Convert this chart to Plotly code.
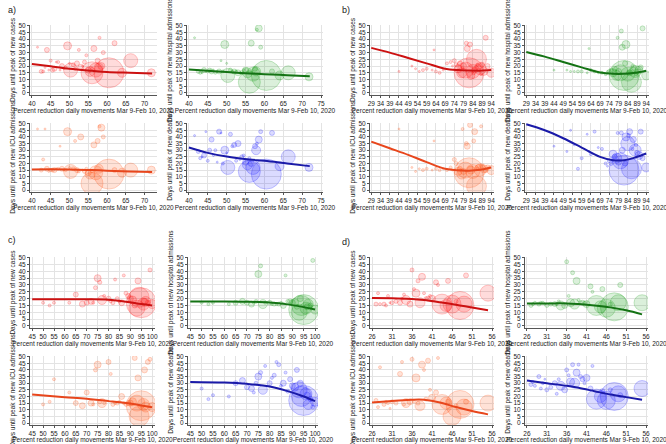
import plotly.graph_objects as go

# ---------------- data ----------------
metrics = ["cases", "hospital admissions", "ICU admissions", "deaths"]
y_titles = ["Days until peak of new cases", "Days until peak of new hospital admissions",
            "Days until peak of new ICU admissions", "Days until peak of new deaths"]
x_title = "Percent reduction daily movements Mar 9-Feb 10, 2020"
panel_labels = ["a)", "b)", "c)", "d)"]
y_ticks = [0, 5, 10, 15, 20, 25, 30, 35, 40, 45, 50]

# panel a
a_x = [60.5, 56.0, 57.0, 50.3, 66.3, 64.0, 71.8, 55.5, 57.8, 58.5, 53.0, 46.0, 48.0, 52.0, 54.0, 44.0,
       42.5, 43.0, 45.0, 47.0, 49.0, 51.0, 55.0, 56.5, 57.5, 59.0, 62.0, 41.5, 44.5, 46.5, 48.5, 50.0,
       52.5, 53.5, 54.5, 58.0, 56.0, 45.5, 49.5, 51.5, 43.5, 47.5]
a_pop = [30, 22, 14, 14, 14, 9, 8, 10, 9, 7, 6, 5, 5, 5, 4, 5, 4, 3, 3, 3, 3, 4, 6, 6, 5, 4, 5, 2, 2, 2, 2, 2,
         3, 2, 3, 3, 3, 4, 8, 3, 2, 2]
a_cases = [15, 15, 17, 17, 24, 15, 15, 16, 19, 20, 19, 18, 20, 22, 23, 32, 16, 16, 24, 23, 19, 21, 17, 33,
           24, 30, 37, 34, 17, 23, 18, 22, 32, 20, 28, 41, 18, 17, 35, 18, 19, 17]
a_hosp = [13, 8, 14, 13, 15, 13, 12, 15, 16, 48, 15, 16, 16, 16, 15, 17, 16, 15, 16, 15, 16, 17, 17, 37,
          18, 34, 16, 41, 16, 17, 24, 22, 16, 15, 17, 47, 16, 17, 36, 16, 15, 16]
a_icu = [12, 5, 13, 14, 15, 13, 15, 12, 16, 47, 40, 15, 16, 15, 14, 16, 15, 23, 15, 16, 15, 16, 13, 34,
         37, 40, 15, 46, 14, 16, 15, 17, 14, 15, 16, 48, 14, 15, 44, 37, 46, 33]
a_deaths = [12, 14, 17, 17, 25, 18, 17, 19, 30, 38, 35, 38, 44, 34, 25, 26, 29, 24, 22, 30, 20, 42, 21, 20,
            33, 44, 43, 41, 44, 26, 43, 28, 22, 23, 26, 35, 24, 30, 30, 33, 25, 21]
a_fit_x = [40, 45, 50, 56, 60, 66, 72]
a_fit = [[21.5, 19.8, 18.0, 16.5, 15.6, 15.0, 14.5],
         [17.5, 16.5, 15.5, 14.5, 14.0, 13.2, 12.5],
         [15.5, 15.6, 15.5, 15.0, 14.6, 14.0, 13.5],
         [32.0, 28.0, 25.2, 23.0, 22.0, 20.0, 18.0]]

# panel b
b_x = [82, 86, 80, 84, 88, 78, 94, 76, 90, 83, 79, 81, 85, 87, 77, 89, 91, 75, 74, 72, 70, 66, 64, 62,
       59, 57, 55, 53, 51, 44, 80.5, 84.5, 92, 78.5, 86.5, 88.5, 73, 68, 63, 82.5]
b_pop = [30, 20, 16, 14, 12, 10, 9, 8, 8, 8, 6, 6, 6, 6, 5, 5, 5, 4, 4, 3, 3, 3, 3, 2, 3, 3, 2, 2, 2, 2,
         4, 4, 5, 3, 3, 3, 2, 2, 2, 5]
b_cases = [15, 25, 17, 16, 18, 15, 15, 18, 16, 13, 20, 33, 17, 19, 22, 21, 41, 21, 24, 23, 22, 15, 16, 17,
           18, 17, 16, 18, 20, 16, 37, 15, 20, 19, 21, 14, 20, 17, 32, 36]
b_hosp = [13, 8, 15, 14, 16, 13, 13, 15, 17, 36, 16, 34, 15, 17, 18, 16, 19, 17, 16, 14, 15, 16, 17, 15,
          16, 16, 16, 16, 17, 17, 46, 15, 48, 41, 20, 14, 16, 15, 33, 22]
b_icu = [13, 3, 15, 14, 15, 12, 15, 14, 16, 15, 14, 33, 44, 17, 16, 18, 15, 20, 23, 17, 15, 15, 16, 15,
         16, 15, 16, 14, 17, 46, 35, 37, 17, 46, 16, 48, 15, 16, 37, 49]
b_deaths = [15, 16, 22, 35, 30, 24, 17, 27, 26, 40, 21, 30, 44, 38, 25, 28, 44, 20, 22, 20, 31, 44, 27, 42,
            24, 16, 34, 45, 29, 33, 43, 41, 24, 43, 31, 34, 18, 32, 29, 20]
b_fit_x = [29, 39, 49, 59, 69, 76, 82, 88, 94]
b_fit = [[33.5, 30.0, 26.0, 22.0, 18.0, 17.0, 16.7, 16.6, 17.0],
         [30.5, 27.0, 23.0, 19.0, 15.2, 14.2, 14.2, 15.0, 16.5],
         [36.5, 31.5, 26.5, 21.0, 16.0, 14.8, 14.6, 15.3, 17.0],
         [49.5, 45.0, 39.0, 32.0, 25.0, 22.5, 22.5, 24.5, 27.5]]

# panel c
c_x = [95, 94, 93, 96, 97, 100, 91, 77, 75, 86, 90, 92, 98, 89, 82, 80, 84, 70, 72, 68, 65, 62, 55, 53, 50,
       74, 76, 78, 83, 85, 88, 99, 87, 81, 73, 93.5, 96.5]
c_pop = [30, 20, 16, 12, 10, 9, 8, 9, 7, 6, 6, 5, 5, 5, 4, 5, 4, 5, 6, 6, 5, 3, 3, 3, 3, 4, 4, 3, 3, 3, 4,
         4, 3, 3, 3, 6, 6]
c_cases = [17, 21, 13, 16, 18, 16, 19, 19, 35, 17, 20, 15, 17, 22, 17, 20, 20, 17, 18, 16, 23, 17, 17, 15,
           17, 28, 32, 22, 34, 18, 24, 41, 37, 18, 17, 33, 18]
c_hosp = [12, 15, 10, 13, 16, 12, 17, 16, 38, 15, 17, 14, 15, 18, 16, 17, 16, 17, 16, 18, 17, 16, 17, 16,
          17, 18, 44, 17, 16, 17, 18, 48, 37, 16, 17, 20, 14]
c_icu = [13, 5, 15, 14, 12, 12, 16, 15, 44, 20, 15, 49, 46, 15, 14, 46, 15, 23, 15, 13, 15, 23, 33, 16, 14,
         40, 16, 15, 15, 16, 14, 48, 15, 37, 14, 34, 40]
c_deaths = [17, 20, 25, 22, 14, 16, 27, 25, 35, 30, 28, 40, 18, 33, 36, 30, 44, 27, 26, 32, 30, 20, 21, 18,
            26, 30, 38, 43, 46, 28, 24, 12, 38, 34, 23, 30, 21]
c_fit_x = [45, 60, 70, 80, 88, 95, 100]
c_fit = [[19.5, 19.5, 19.5, 19.2, 17.8, 16.0, 15.0],
         [18.0, 18.0, 17.8, 17.2, 15.8, 13.8, 12.0],
         [21.5, 19.5, 18.2, 16.5, 15.0, 13.2, 11.8],
         [31.0, 30.5, 29.5, 27.5, 24.0, 20.0, 16.5]]

# panel d
d_x = [48, 43.5, 46, 49, 55, 44.5, 38, 34.5, 37, 41, 38.5, 35.5, 40, 33, 42, 45, 36, 37.5, 32, 31, 29, 28,
       27, 30, 33.5, 39, 49.5, 36.5, 42.5, 27.5, 29.5, 34, 40.5, 47, 39.5, 30.5]
d_pop = [28, 20, 18, 16, 16, 12, 10, 9, 8, 7, 7, 6, 5, 5, 5, 5, 4, 4, 4, 4, 4, 3, 4, 3, 3, 3, 5, 3, 3, 3, 3,
         3, 3, 4, 4, 2]
d_cases = [15, 16, 16, 16, 24, 15, 17, 19, 24, 20, 36, 16, 20, 17, 32, 33, 41, 33, 18, 17, 16, 16, 16, 22,
           20, 24, 37, 27, 30, 24, 15, 23, 22, 18, 20, 17]
d_hosp = [14, 15, 13, 17, 17, 14, 16, 15, 17, 16, 33, 15, 17, 16, 29, 27, 47, 39, 16, 15, 16, 17, 15, 17,
          16, 19, 30, 22, 25, 16, 17, 18, 17, 16, 17, 16]
d_icu = [14, 14, 5, 12, 15, 15, 13, 15, 34, 19, 44, 16, 47, 37, 23, 16, 48, 15, 15, 16, 14, 42, 17, 15, 46,
         40, 16, 16, 49, 12, 16, 14, 25, 13, 18, 11]
d_deaths = [20, 18, 17, 22, 26, 20, 30, 28, 31, 34, 38, 25, 33, 30, 26, 24, 40, 44, 27, 25, 35, 28, 29, 30,
            22, 44, 21, 36, 43, 31, 26, 33, 30, 25, 35, 33]
d_fit_x = [26, 31, 36, 39, 43, 47, 51, 55]
d_fit = [[20.5, 20.2, 19.8, 19.0, 17.4, 15.6, 13.5, 11.5],
         [16.5, 16.5, 16.5, 16.0, 15.0, 13.6, 11.5, 8.5],
         [15.5, 16.5, 17.5, 17.5, 15.5, 12.0, 9.0, 6.5],
         [32.0, 30.0, 28.0, 26.5, 24.0, 21.5, 19.5, 17.5]]

a_ticks = [40, 45, 50, 55, 60, 65, 70, 75]
b_ticks = [29, 34, 39, 44, 49, 54, 59, 64, 69, 74, 79, 84, 89, 94]
c_ticks = [45, 50, 55, 60, 65, 70, 75, 80, 85, 90, 95, 100]
d_ticks = [26, 31, 36, 41, 46, 51, 56]

# ---------------- layout helpers ----------------
W, H = 666, 444
marker_cols = ["rgba(255,0,0,0.2)", "rgba(0,150,0,0.2)", "rgba(255,69,0,0.22)", "rgba(0,0,255,0.2)"]
edge_cols = ["rgba(255,0,0,0.3)", "rgba(0,150,0,0.3)", "rgba(255,69,0,0.3)", "rgba(0,0,255,0.3)"]
line_cols = ["#cc1111", "#147314", "#e8461c", "#1a1aa8"]

panels = [
    dict(x=a_x, pop=a_pop, ys=[a_cases, a_hosp, a_icu, a_deaths], fx=a_fit_x, fy=a_fit, ticks=a_ticks,
         cols=[(30, 157, [39.5, 73.3]), (187, 323, [39.5, 75.5])], rows=[(25, 95), (123, 192)],
         lab=(6, 10)),
    dict(x=b_x, pop=b_pop, ys=[b_cases, b_hosp, b_icu, b_deaths], fx=b_fit_x, fy=b_fit, ticks=b_ticks,
         cols=[(370, 494, [28.3, 95.5]), (525, 649, [28.3, 95.5])], rows=[(25, 95), (123, 192)],
         lab=(340, 10)),
    dict(x=c_x, pop=c_pop, ys=[c_cases, c_hosp, c_icu, c_deaths], fx=c_fit_x, fy=c_fit, ticks=c_ticks,
         cols=[(30, 155, [44, 101.3]), (188, 318, [44, 101.3])], rows=[(257, 328), (356, 425)],
         lab=(6, 240)),
    dict(x=d_x, pop=d_pop, ys=[d_cases, d_hosp, d_icu, d_deaths], fx=d_fit_x, fy=d_fit, ticks=d_ticks,
         cols=[(370, 494, [25.5, 56.5]), (525, 648, [25.5, 56.5])], rows=[(257, 328), (356, 425)],
         lab=(340, 242)),
]

FONT = "Liberation Sans, Arial, sans-serif"
FS = 6.5
fig = go.Figure()
layout = dict(width=W, height=H, margin=dict(l=0, r=0, t=0, b=0, autoexpand=False), showlegend=False,
              plot_bgcolor="white", paper_bgcolor="white",
              font=dict(family=FONT, size=FS, color="#222"), annotations=[])

n = 0
for pi, p in enumerate(panels):
    for m in range(4):
        n += 1
        ci, ri = m % 2, m // 2
        x0, x1, xr = p["cols"][ci]
        y0, y1 = p["rows"][ri]
        xa = "x" if n == 1 else f"x{n}"
        ya = "y" if n == 1 else f"y{n}"
        fig.add_trace(go.Scatter(
            x=p["x"], y=p["ys"][m], mode="markers", xaxis=xa, yaxis=ya, hoverinfo="skip",
            marker=dict(size=p["pop"], sizemode="diameter", color=marker_cols[m],
                        line=dict(color=edge_cols[m], width=1))))
        fig.add_trace(go.Scatter(
            x=p["fx"], y=p["fy"][m], mode="lines", xaxis=xa, yaxis=ya, hoverinfo="skip",
            line=dict(color=line_cols[m], width=2, shape="spline")))
        axcommon = dict(showgrid=True, gridcolor="#e3e3e3", gridwidth=1, showline=True,
                        linecolor="#555", linewidth=1, ticks="outside", ticklen=2, tickcolor="#555",
                        zeroline=False, tickfont=dict(size=FS, color="#222"), tickangle=0,
                        automargin=False)
        layout["xaxis" if n == 1 else f"xaxis{n}"] = dict(
            axcommon, domain=[x0 / W, x1 / W], range=xr, anchor=ya, tickmode="array",
            tickvals=p["ticks"], ticktext=[str(t) for t in p["ticks"]],
            title=dict(text=x_title, font=dict(size=FS, color="#222"), standoff=0))
        layout["yaxis" if n == 1 else f"yaxis{n}"] = dict(
            axcommon, domain=[1 - y1 / H, 1 - y0 / H], range=[-1.5, 50.5], anchor=xa,
            tickmode="array", tickvals=y_ticks,
            title=dict(text=y_titles[m], font=dict(size=FS, color="#222"), standoff=2))
    layout["annotations"].append(dict(text=panel_labels[pi], x=p["lab"][0] / W, y=1 - p["lab"][1] / H,
                                      xref="paper", yref="paper", xanchor="left", yanchor="middle",
                                      showarrow=False, font=dict(size=9, color="#222")))

fig.update_layout(**layout)
fig.write_html("out.html", config={"displayModeBar": False},
               post_script="document.body.style.margin='0';document.body.style.overflow='hidden';")
